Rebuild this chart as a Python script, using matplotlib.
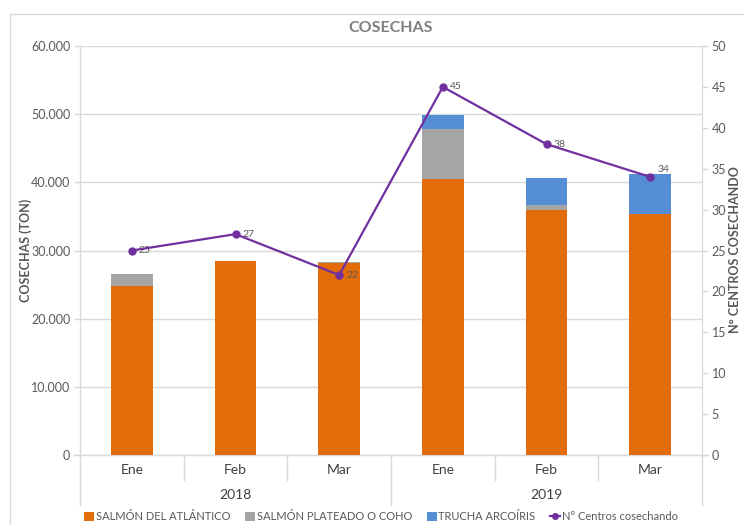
import matplotlib
import matplotlib.pyplot as plt
from matplotlib.lines import Line2D
from matplotlib.patches import Rectangle, Patch
from matplotlib.ticker import FuncFormatter, MultipleLocator

matplotlib.use("Agg")

plt.rcParams["font.family"] = ["Lato", "DejaVu Sans"]

months = ["Ene", "Feb", "Mar", "Ene", "Feb", "Mar"]
years = ["2018", "2019"]
atlantico = [24800, 28450, 28150, 40450, 35950, 35400]
coho = [1750, 0, 100, 7350, 700, 0]
trucha = [0, 0, 100, 2050, 4050, 5800]
centros = [25, 27, 22, 45, 38, 34]

C_ORANGE = "#E36C0A"
C_GRAY = "#A5A5A5"
C_BLUE = "#558ED5"
C_PURPLE = "#7030A0"
TXT = "#595959"
GRID = "#D9D9D9"

W, H = 744, 525
fig = plt.figure(figsize=(W / 100, H / 100), dpi=100)

# chart area border
fig.patches.append(Rectangle((10 / W, -0.1), 2, 1 - 14 / H + 0.1,
                             transform=fig.transFigure, fill=False,
                             edgecolor=GRID, linewidth=1.0))

left, right, top, bottom = 80, 702, 46, 455
ax = fig.add_axes([left / W, 1 - bottom / H, (right - left) / W, (bottom - top) / H])
ax2 = ax.twinx()

x = list(range(len(months)))
bw = 0.4
ax.bar(x, atlantico, bw, color=C_ORANGE, zorder=3)
ax.bar(x, coho, bw, bottom=atlantico, color=C_GRAY, zorder=3)
base2 = [a + c for a, c in zip(atlantico, coho)]
ax.bar(x, trucha, bw, bottom=base2, color=C_BLUE, zorder=3)

ax.set_xlim(-0.5, len(months) - 0.5)
ax.set_ylim(0, 60000)
ax.yaxis.set_major_locator(MultipleLocator(10000))
ax.yaxis.set_major_formatter(FuncFormatter(lambda v, p: f"{int(v):,}".replace(",", ".")))
ax.grid(axis="y", color=GRID, linewidth=1.0, zorder=0)
ax.set_axisbelow(True)
ax.set_xticks([])

for a in (ax, ax2):
    for s in ("top", "bottom"):
        a.spines[s].set_visible(False)
    a.spines["left"].set_color(GRID)
    a.spines["right"].set_color(GRID)
    a.tick_params(axis="y", colors=TXT, labelsize=9, length=4, width=1.0,
                  color=GRID, pad=3)
for lab in ax.get_yticklabels() + ax2.get_yticklabels():
    lab.set_color(TXT)

ax2.plot(x, centros, color=C_PURPLE, linewidth=1.6, marker="o", markersize=5, zorder=5)
ax2.set_ylim(0, 50)
ax2.yaxis.set_major_locator(MultipleLocator(5))
for xi, v in zip(x, centros):
    dy = 5 if xi == 5 else 0
    ax2.annotate(str(v), (xi, v), xytext=(5, dy), textcoords="offset points",
                 fontsize=7.5, color=TXT, va="center", ha="left")

# baseline at zero
ax.axhline(0, color=GRID, linewidth=1.0, zorder=2, xmin=-0.01, xmax=1.01, clip_on=False)

fig.text(26 / W, 1 - 250 / H, "COSECHAS (TON)", rotation=90, ha="center", va="center",
         fontsize=9, fontweight="bold", color=TXT)
fig.text(735 / W, 1 - 250 / H, "N° CENTROS COSECHANDO", rotation=90, ha="center",
         va="center", fontsize=9, fontweight="bold", color=TXT)

ax.set_title("COSECHAS", fontsize=11.5, fontweight="bold", color="#7F7F7F", pad=10)

# multi-level category axis
cat_w = (right - left) / len(months)
for i, m in enumerate(months):
    cx = (left + cat_w * (i + 0.5)) / W
    fig.text(cx, 1 - 470 / H, m, ha="center", va="center", fontsize=10, color="#404040")
for j, yr in enumerate(years):
    cx = (left + cat_w * (3 * j + 1.5)) / W
    fig.text(cx, 1 - 495 / H, yr, ha="center", va="center", fontsize=10, color="#404040")
for i in range(len(months) + 1):
    xx = (left + cat_w * i) / W
    y_end = 505 if i % 3 == 0 else 480
    fig.lines.append(Line2D([xx, xx], [1 - bottom / H, 1 - y_end / H],
                            transform=fig.transFigure, color=GRID, linewidth=1.0))

handles = [
    Patch(facecolor=C_ORANGE, label="SALMÓN DEL ATLÁNTICO"),
    Patch(facecolor=C_GRAY, label="SALMÓN PLATEADO O COHO"),
    Patch(facecolor=C_BLUE, label="TRUCHA ARCOÍRIS"),
    Line2D([0], [0], color=C_PURPLE, marker="o", markersize=4, linewidth=1.6,
           label="N° Centros cosechando"),
]
leg = fig.legend(handles=handles, loc="center", bbox_to_anchor=(381 / W, 1 - 517 / H),
                 ncol=4, frameon=False, fontsize=8, handlelength=0.9, handleheight=0.8,
                 handletextpad=0.15, columnspacing=1.3, labelcolor=TXT)

fig.savefig("out.png", dpi=100, facecolor="white")
plt.close(fig)
